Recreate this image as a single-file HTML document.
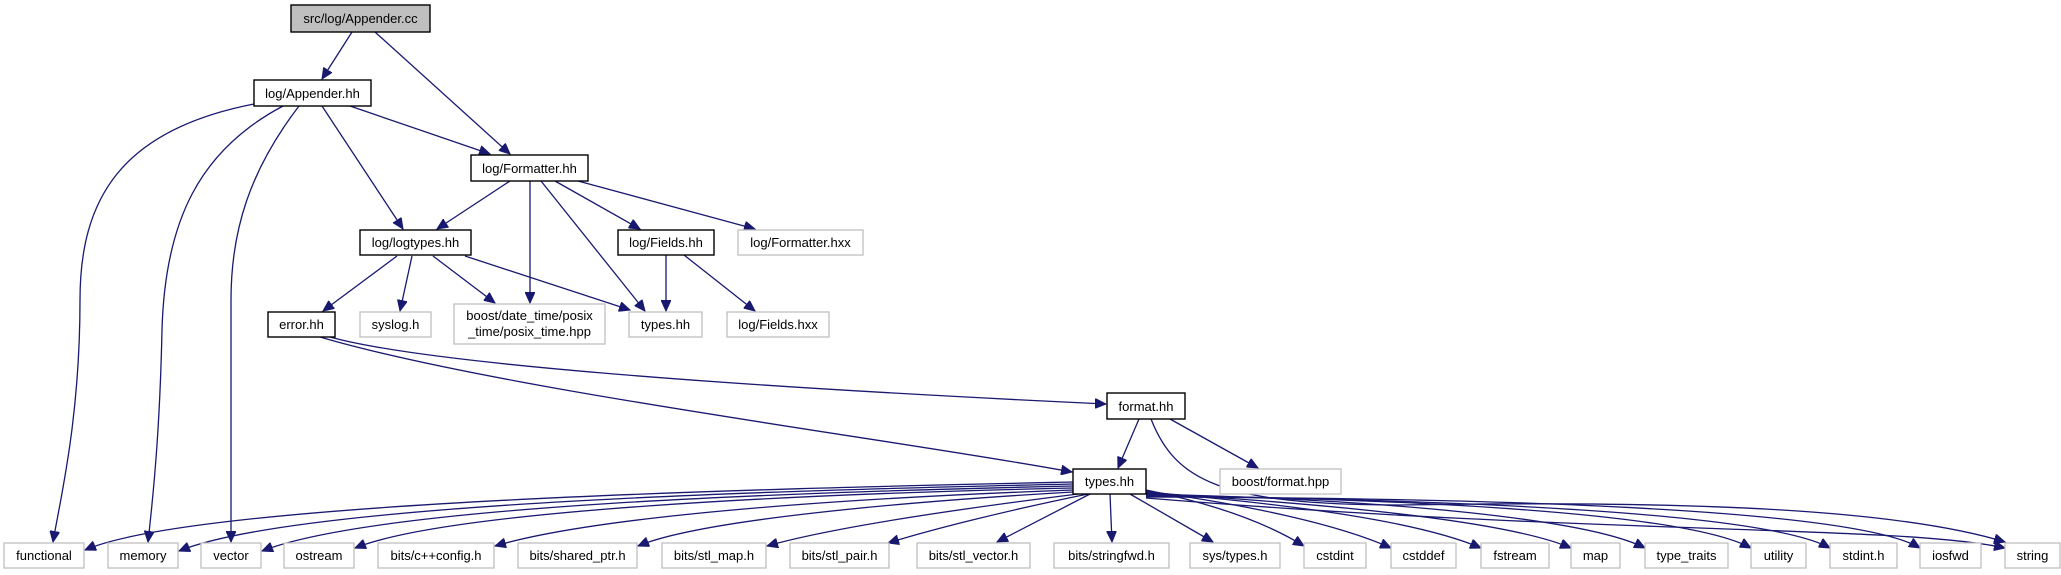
<!DOCTYPE html>
<html><head><meta charset="utf-8"><style>
html,body{margin:0;padding:0;background:#fff;}
svg{display:block;}
text{font-family:"Liberation Sans",Arial,sans-serif;font-size:13px;fill:#000;text-anchor:middle;}
.n{fill:#fff;stroke:#000;stroke-width:1.4;}
.g{fill:#fff;stroke:#bfbfbf;stroke-width:1.3;}
.e{fill:none;stroke:#191970;stroke-width:1.3;}
</style></head><body>
<svg width="2061" height="575" viewBox="0 0 2061 575" xmlns="http://www.w3.org/2000/svg">
<defs>
<marker id="a" markerUnits="userSpaceOnUse" markerWidth="12" markerHeight="10" refX="11" refY="5" orient="auto">
<path d="M0,0 L11,5 L0,10 Z" fill="#191970" stroke="#191970"/>
</marker>
</defs>
<g marker-end="url(#a)">
<path class="e" d="M352,32 L322,79"/>
<path class="e" d="M375,32 L510,154"/>
<path class="e" d="M254,104 C120,130 80,200 80,300 C80,420 60,500 53,542"/>
<path class="e" d="M283,106 C200,150 165,220 162,330 C160,420 155,480 148,542"/>
<path class="e" d="M299,106 C250,170 231,230 231,300 L231,542"/>
<path class="e" d="M322,106 L403,229"/>
<path class="e" d="M350,106 L490,154"/>
<path class="e" d="M510,181 L437,229"/>
<path class="e" d="M530,181 L530,303"/>
<path class="e" d="M541,181 L645,311"/>
<path class="e" d="M555,181 L640,229"/>
<path class="e" d="M578,181 L755,229"/>
<path class="e" d="M397,256 L323,311"/>
<path class="e" d="M412,256 L400,311"/>
<path class="e" d="M433,256 L495,303"/>
<path class="e" d="M465,256 L630,310"/>
<path class="e" d="M666,255 L666,311"/>
<path class="e" d="M684,255 L755,311"/>
<path class="e" d="M330,337 C420,362 700,385 1106,404"/>
<path class="e" d="M320,337 C500,390 900,440 1072,472"/>
<path class="e" d="M1139,419 L1118,468"/>
<path class="e" d="M1170,419 L1258,468"/>
<path class="e" d="M1151,419 C1175,480 1220,505 1400,505 C1700,500 1900,510 2005,542"/>
<path class="e" d="M1073,482 C800,488 200,500 85,550"/>
<path class="e" d="M1073,484 C800,490 300,502 179,551"/>
<path class="e" d="M1073,486 C800,492 380,505 262,551"/>
<path class="e" d="M1073,488 C800,494 450,510 355,548"/>
<path class="e" d="M1073,490 C850,498 600,515 495,546"/>
<path class="e" d="M1073,492 C900,502 700,520 638,546"/>
<path class="e" d="M1078,494 C950,510 830,528 767,546"/>
<path class="e" d="M1088,494 C1000,512 930,530 888,543"/>
<path class="e" d="M1090,494 L997,542"/>
<path class="e" d="M1110,494 L1112,542"/>
<path class="e" d="M1130,494 L1213,542"/>
<path class="e" d="M1146,490 C1220,505 1270,525 1304,546"/>
<path class="e" d="M1146,491 C1250,505 1340,525 1391,548"/>
<path class="e" d="M1146,492 C1300,505 1420,522 1481,548"/>
<path class="e" d="M1146,493 C1350,505 1510,522 1571,548"/>
<path class="e" d="M1146,494 C1400,500 1590,520 1645,548"/>
<path class="e" d="M1146,495 C1450,500 1690,515 1751,548"/>
<path class="e" d="M1146,496 C1500,500 1770,515 1830,548"/>
<path class="e" d="M1146,497 C1550,498 1860,512 1920,548"/>
<path class="e" d="M1146,498 C1600,535 1900,525 2005,548"/>
</g>
<rect x="291" y="5" width="139" height="27" fill="#bfbfbf" stroke="#000" stroke-width="1.4"/><text x="360.5" y="23">src/log/Appender.cc</text>
<rect class="n" x="254" y="80" width="117" height="26"/><text x="312.5" y="98">log/Appender.hh</text>
<rect class="n" x="471" y="155" width="117" height="26"/><text x="529.5" y="173">log/Formatter.hh</text>
<rect class="n" x="360" y="230" width="111" height="25"/><text x="415.5" y="247">log/logtypes.hh</text>
<rect class="n" x="618" y="230" width="96" height="25"/><text x="666" y="247">log/Fields.hh</text>
<rect class="g" x="738" y="230" width="125" height="25"/><text x="800.5" y="247">log/Formatter.hxx</text>
<rect class="n" x="268" y="312" width="67" height="25"/><text x="301.5" y="329">error.hh</text>
<rect class="g" x="360" y="312" width="71" height="25"/><text x="395.5" y="329">syslog.h</text>
<rect class="g" x="454" y="304" width="151" height="40"/><text x="529.5" y="320">boost/date_time/posix</text><text x="529.5" y="336">_time/posix_time.hpp</text>
<rect class="g" x="629" y="312" width="73" height="25"/><text x="665.5" y="329">types.hh</text>
<rect class="g" x="727" y="312" width="102" height="25"/><text x="778" y="329">log/Fields.hxx</text>
<rect class="n" x="1107" y="393" width="78" height="26"/><text x="1146" y="411">format.hh</text>
<rect class="n" x="1073" y="469" width="73" height="25"/><text x="1109.5" y="486">types.hh</text>
<rect class="g" x="1220" y="469" width="121" height="25"/><text x="1280.5" y="486">boost/format.hpp</text>
<g>
<rect class="g" x="4" y="543" width="80" height="25"/><text x="44" y="560">functional</text>
<rect class="g" x="108" y="543" width="70" height="25"/><text x="143" y="560">memory</text>
<rect class="g" x="201" y="543" width="60" height="25"/><text x="231" y="560">vector</text>
<rect class="g" x="284" y="543" width="70" height="25"/><text x="319" y="560">ostream</text>
<rect class="g" x="378" y="543" width="116" height="25"/><text x="436" y="560">bits/c++config.h</text>
<rect class="g" x="518" y="543" width="119" height="25"/><text x="577.5" y="560">bits/shared_ptr.h</text>
<rect class="g" x="662" y="543" width="104" height="25"/><text x="714" y="560">bits/stl_map.h</text>
<rect class="g" x="790" y="543" width="99" height="25"/><text x="839.5" y="560">bits/stl_pair.h</text>
<rect class="g" x="917" y="543" width="113" height="25"/><text x="973.5" y="560">bits/stl_vector.h</text>
<rect class="g" x="1054" y="543" width="115" height="25"/><text x="1111.5" y="560">bits/stringfwd.h</text>
<rect class="g" x="1190" y="543" width="90" height="25"/><text x="1235" y="560">sys/types.h</text>
<rect class="g" x="1304" y="543" width="62" height="25"/><text x="1335" y="560">cstdint</text>
<rect class="g" x="1391" y="543" width="65" height="25"/><text x="1423.5" y="560">cstddef</text>
<rect class="g" x="1481" y="543" width="68" height="25"/><text x="1515" y="560">fstream</text>
<rect class="g" x="1571" y="543" width="49" height="25"/><text x="1595.5" y="560">map</text>
<rect class="g" x="1645" y="543" width="83" height="25"/><text x="1686.5" y="560">type_traits</text>
<rect class="g" x="1751" y="543" width="55" height="25"/><text x="1778.5" y="560">utility</text>
<rect class="g" x="1830" y="543" width="67" height="25"/><text x="1863.5" y="560">stdint.h</text>
<rect class="g" x="1920" y="543" width="61" height="25"/><text x="1950.5" y="560">iosfwd</text>
<rect class="g" x="2005" y="543" width="55" height="25"/><text x="2032.5" y="560">string</text>
</g>
</svg>
</body></html>
